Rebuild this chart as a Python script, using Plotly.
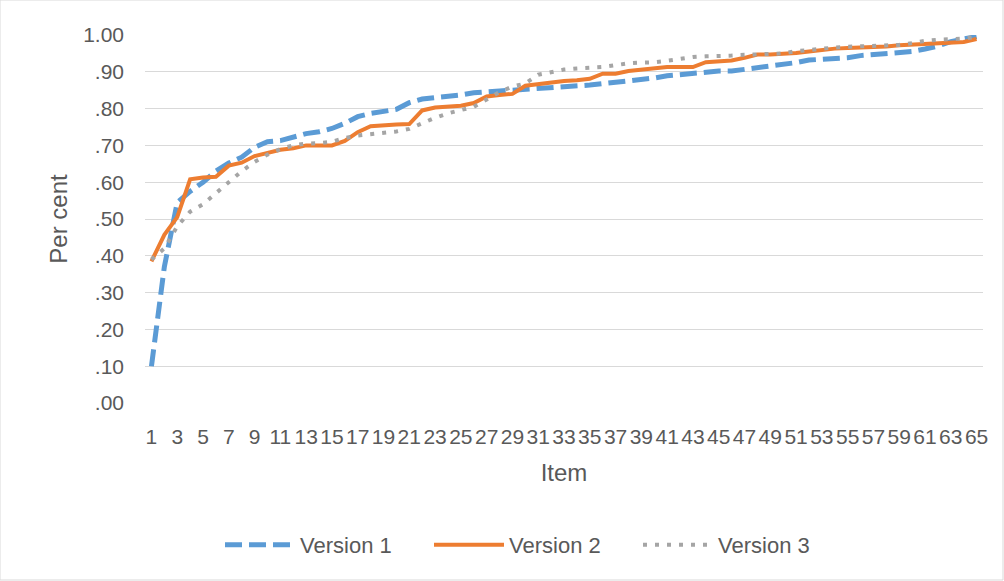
import plotly.graph_objects as go

# Item numbers along the x axis
items = list(range(1, 66))

# Cumulative per-cent values for each version
version_1 = [0.100, 0.370, 0.545, 0.575, 0.600, 0.630, 0.652, 0.668, 0.695, 0.710,
             0.713, 0.724, 0.732, 0.737, 0.746, 0.760, 0.778, 0.787, 0.793, 0.798,
             0.816, 0.826, 0.830, 0.833, 0.837, 0.843, 0.844, 0.848, 0.850, 0.852,
             0.854, 0.858, 0.860, 0.862, 0.864, 0.868, 0.871, 0.874, 0.879, 0.883,
             0.889, 0.893, 0.896, 0.900, 0.902, 0.902, 0.906, 0.911, 0.915, 0.918,
             0.925, 0.932, 0.933, 0.934, 0.938, 0.944, 0.947, 0.951, 0.951, 0.955,
             0.962, 0.970, 0.982, 0.988, 0.996]

version_2 = [0.385, 0.457, 0.505, 0.608, 0.613, 0.615, 0.645, 0.653, 0.671, 0.680,
             0.688, 0.692, 0.700, 0.700, 0.700, 0.712, 0.736, 0.752, 0.755, 0.757,
             0.758, 0.795, 0.803, 0.806, 0.808, 0.815, 0.833, 0.837, 0.840, 0.862,
             0.867, 0.870, 0.875, 0.877, 0.881, 0.895, 0.895, 0.902, 0.906, 0.911,
             0.913, 0.913, 0.913, 0.926, 0.928, 0.931, 0.938, 0.947, 0.947, 0.948,
             0.951, 0.955, 0.960, 0.963, 0.965, 0.966, 0.966, 0.969, 0.972, 0.974,
             0.976, 0.976, 0.978, 0.981, 0.989]

version_3 = [0.390, 0.420, 0.480, 0.520, 0.540, 0.570, 0.600, 0.630, 0.655, 0.675,
             0.690, 0.700, 0.705, 0.706, 0.710, 0.720, 0.727, 0.730, 0.733, 0.738,
             0.745, 0.760, 0.775, 0.787, 0.797, 0.805, 0.825, 0.845, 0.860, 0.868,
             0.892, 0.900, 0.906, 0.909, 0.911, 0.913, 0.918, 0.923, 0.925, 0.926,
             0.930, 0.936, 0.940, 0.942, 0.942, 0.944, 0.946, 0.948, 0.948, 0.950,
             0.956, 0.960, 0.963, 0.966, 0.968, 0.969, 0.969, 0.970, 0.973, 0.978,
             0.984, 0.987, 0.988, 0.990, 0.995]

# Axis ticks
x_tick_items = list(range(1, 66, 2))
y_tick_values = [0.0, 0.1, 0.2, 0.3, 0.4, 0.5, 0.6, 0.7, 0.8, 0.9, 1.0]
y_tick_labels = [".00", ".10", ".20", ".30", ".40", ".50", ".60", ".70", ".80", ".90", "1.00"]

series_names = ["Version 1", "Version 2", "Version 3"]
series_colors = ["#5B9BD5", "#ED7D31", "#A5A5A5"]
series_dashes = ["17px,7px", "solid", "4px,8px"]
series_widths = [5, 4, 4]

text_color = "#595959"
grid_color = "#D9D9D9"
font_family = "Liberation Sans, Arial, sans-serif"

fig = go.Figure()
for name, values, color, dash, width in zip(series_names,
                                            [version_1, version_2, version_3],
                                            series_colors, series_dashes, series_widths):
    fig.add_trace(go.Scatter(
        x=items, y=values, name=name, mode="lines",
        line=dict(color=color, width=width, dash=dash),
    ))

fig.update_layout(
    width=1004, height=581,
    margin=dict(l=145, r=21, t=35, b=178, autoexpand=False),
    paper_bgcolor="white", plot_bgcolor="white",
    font=dict(family=font_family, size=21, color=text_color),
    showlegend=True,
    legend=dict(
        orientation="h", x=(220 - 145) / 838, xanchor="left", y=-0.386, yanchor="middle",
        font=dict(size=22, color=text_color), itemwidth=70,
        entrywidth=124, entrywidthmode="pixels",
        bgcolor="rgba(0,0,0,0)",
    ),
)

fig.update_xaxes(
    range=[0.5, 65.5], tickmode="array", tickvals=x_tick_items,
    ticktext=[str(v) for v in x_tick_items], tickangle=0,
    showgrid=False, zeroline=False, showline=False, ticks="",
    ticklabelstandoff=19,
    title=dict(text="Item", font=dict(size=24, color=text_color), standoff=17),
)
fig.update_yaxes(
    range=[0, 1.0], tickmode="array", tickvals=y_tick_values, ticktext=y_tick_labels,
    showgrid=True, gridcolor=grid_color, gridwidth=1,
    zeroline=False, showline=False, ticks="",
    ticklabelstandoff=20,
    title=dict(text="Per cent", font=dict(size=24, color=text_color), standoff=8),
)

# Light frame around the whole chart area
fig.add_shape(type="rect", xref="paper", yref="paper",
              x0=-145 / 838, x1=(1003 - 145) / 838,
              y0=-(580 - 403) / 368, y1=1 + 35 / 368,
              line=dict(color=grid_color, width=1), fillcolor="rgba(0,0,0,0)", layer="below")

fig.write_html("out.html")
